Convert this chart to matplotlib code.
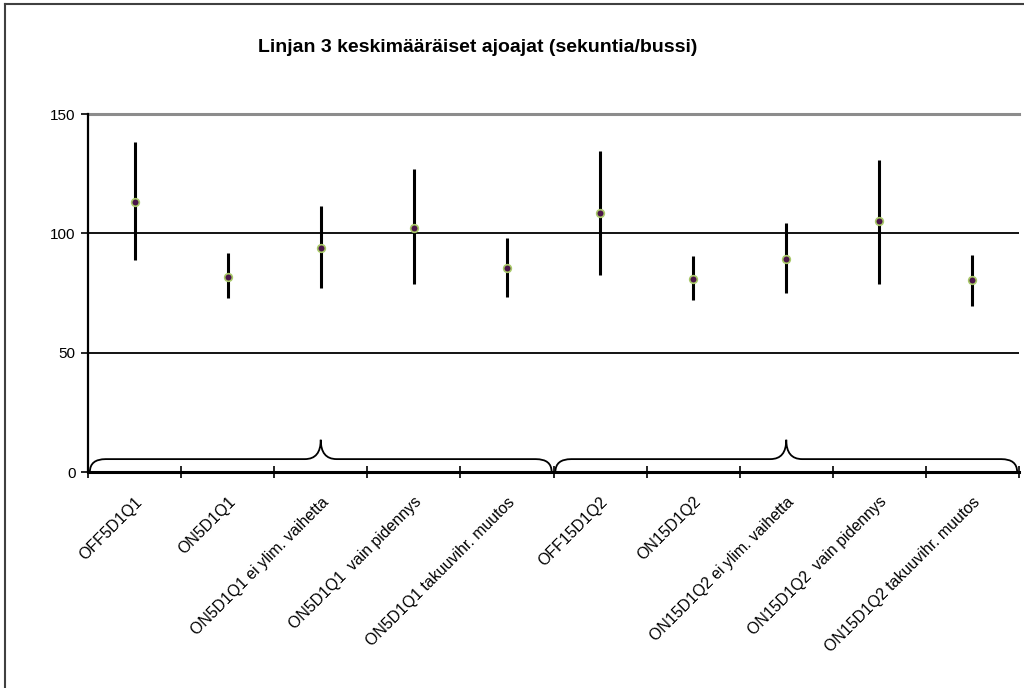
import matplotlib
matplotlib.use("Agg")
import matplotlib.pyplot as plt
from matplotlib.path import Path
from matplotlib.patches import PathPatch
from matplotlib.lines import Line2D
import numpy as np

plt.rcParams['font.family'] = ['Liberation Sans', 'DejaVu Sans']

categories = ["OFF5D1Q1", "ON5D1Q1", "ON5D1Q1 ei ylim. vaihetta", "ON5D1Q1  vain pidennys",
              "ON5D1Q1 takuuvihr. muutos", "OFF15D1Q2", "ON15D1Q2", "ON15D1Q2 ei ylim. vaihetta",
              "ON15D1Q2  vain pidennys", "ON15D1Q2 takuuvihr. muutos"]
means = [113.1, 81.7, 93.7, 102.4, 85.3, 108.6, 81.0, 89.2, 105.0, 80.3]
upper = [138.1, 91.6, 111.4, 126.9, 98.0, 134.5, 90.6, 104.3, 130.7, 90.9]
lower = [89.0, 72.9, 77.2, 78.9, 73.4, 82.7, 72.1, 75.1, 78.9, 69.7]
groups = [(0, 4), (5, 9)]
title = "Linjan 3 keskimääräiset ajoajat (sekuntia/bussi)"

fig = plt.figure(figsize=(10.24, 6.88), dpi=100)
ax = fig.add_axes([88/1024, 1-472/688, (1019-88)/1024, (472-114)/688])

x = np.arange(len(categories))
m = np.array(means); u = np.array(upper); l = np.array(lower)
ax.vlines(x, l, u, color='black', lw=2.2, zorder=3)
ax.plot(x, m, 'o', ms=5.5, mfc='#4a1448', mec='#a8c868', mew=1.2, zorder=4)

ax.set_xlim(-0.5, len(categories)-0.5)
ax.set_ylim(0, 150)
ax.set_yticks([0, 50, 100, 150])
ax.tick_params(axis='y', direction='out', length=5, width=1.2, labelsize=11, pad=4)
for yv in [50, 100]:
    ax.axhline(yv, color='black', lw=1.3, zorder=1)
ax.axhline(150, color='#8c8c8c', lw=2.2, zorder=1, clip_on=False)

ax.set_xticks(x)
ax.set_xticklabels(categories, rotation=45, ha='right', va='top', rotation_mode='anchor', fontsize=11.4)
ax.tick_params(axis='x', length=0, pad=16)
ax.set_xticks(np.arange(-0.5, len(categories), 1.0), minor=True)
ax.tick_params(axis='x', which='minor', direction='inout', length=8, width=1.2)

for s in ['top', 'right']:
    ax.spines[s].set_visible(False)
ax.spines['left'].set_linewidth(1.6)
ax.spines['bottom'].set_linewidth(2.2)

# braces
h, p, r = 5.4, 13.5, 0.17
for g0, g1 in groups:
    x0, x1 = g0 - 0.5 + 0.02, g1 + 0.5 - 0.02
    xc = (g0 + g1) / 2
    verts = [(x0, 0), (x0, h), (x0 + r, h), (xc - r, h), (xc, h), (xc, p),
             (xc, h), (xc + r, h), (x1 - r, h), (x1, h), (x1, 0)]
    codes = [Path.MOVETO, Path.CURVE3, Path.CURVE3, Path.LINETO, Path.CURVE3, Path.CURVE3,
             Path.CURVE3, Path.CURVE3, Path.LINETO, Path.CURVE3, Path.CURVE3]
    ax.add_patch(PathPatch(Path(verts, codes), fill=False, lw=1.3, ec='black', zorder=2))

fig.text(478/1024, 1-47/688, title, ha='center', va='center', fontsize=14, fontweight='bold')

# outer frame (partial)
fig.add_artist(Line2D([5/1024, 5/1024], [0, 1-4/688], transform=fig.transFigure, color='#404040', lw=1.5))
fig.add_artist(Line2D([5/1024, 1], [1-4/688, 1-4/688], transform=fig.transFigure, color='#404040', lw=1.5))

fig.savefig("out.png", dpi=100)
